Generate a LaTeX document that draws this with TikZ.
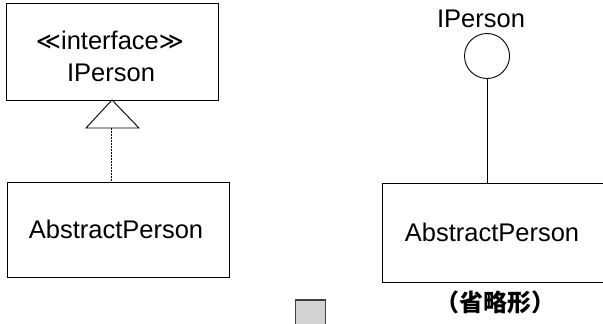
\documentclass[tikz,border=0pt]{standalone}
\usepackage{fontspec}
\setmainfont{Liberation Sans}
\newfontfamily\symfont{DejaVu Sans}
\newfontfamily\cjk{Noto Sans CJK SC}
\begin{document}
\begin{tikzpicture}[x=1pt,y=-1pt,
  umlbox/.style={draw=black,line width=1pt,rectangle,inner sep=0pt},
  lbl/.style={inner sep=0pt,font=\fontsize{25.5}{30}\selectfont},
  realize/.style={draw=black,line width=0.8pt,dash pattern=on 2pt off 1pt},
  link/.style={draw=black,line width=0.9pt}]
\useasboundingbox (0,0) rectangle (603,324);

% interface notation (left)
\node[umlbox,minimum width=212pt,minimum height=97pt] (iface) at (112,51.5) {};
\node[lbl] (stereo) at (110,40) {{\symfont\fontsize{24}{28}\selectfont ≪}interface{\symfont\fontsize{24}{28}\selectfont ≫}};
\node[lbl] (ifname) at (111,73) {IPerson};
\node[umlbox,minimum width=222pt,minimum height=95pt] (absL) at (118,229.5) {};
\node[lbl] (absLtext) at (116,229.5) {AbstractPerson};

% realization: hollow triangle and dashed line
\coordinate (apex) at (112,100);
\coordinate (tbase) at (112,128);
\draw[link,fill=white] (apex) -- (86,128) -- (139,128) -- cycle;
\draw[realize] (tbase -| 111,0) -- (absL.north -| 111,0);

% lollipop notation (right)
\node[lbl] (ballname) at (481,19) {IPerson};
\node[draw=black,line width=0.9pt,circle,minimum size=45pt,inner sep=0pt] (ball) at (487,56) {};
\node[umlbox,minimum width=222pt,minimum height=99pt] (absR) at (493,232.5) {};
\node[lbl] (absRtext) at (492,232.5) {AbstractPerson};
\draw[link] (ball.south) -- (ball.south |- absR.north);

% caption and marker
\node[inner sep=0pt,font=\cjk\bfseries\fontsize{24}{28}\selectfont] (caption) at (495,302) {（省略形）};
\node[draw=black!75,line width=1.2pt,fill=gray!35,minimum width=30pt,minimum height=30pt,inner sep=0pt] (marker) at (310.5,315) {};
\end{tikzpicture}
\end{document}
